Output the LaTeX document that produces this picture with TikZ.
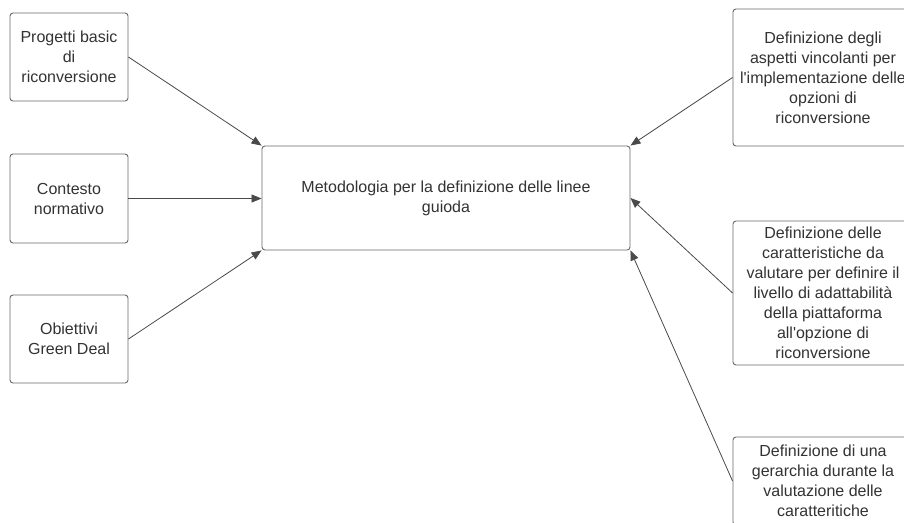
\documentclass[tikz,border=0pt]{standalone}
\usepackage{fontspec}
\setmainfont{Liberation Sans}
\usetikzlibrary{arrows.meta}
\definecolor{boxline}{HTML}{6A6A6A}
\definecolor{txt}{HTML}{333333}
\definecolor{arrowc}{HTML}{4A4A4A}
\tikzset{
	box/.style={draw=boxline, line width=0.9pt, rounded corners=3pt, align=center, text=txt, font=\fontsize{16}{20}\selectfont, inner sep=0pt},
	link/.style={arrowc, line width=0.8pt, -{Triangle[length=10pt,width=8pt]}}
}
\begin{document}
\begin{tikzpicture}[x=1pt, y=-1pt]
	\useasboundingbox (0,0) rectangle (904,522);
	\clip (0,0) rectangle (904,522);
	\fill[white] (0,0) rectangle (904,522);
	
	\node[box, minimum width=118pt, minimum height=88pt] (progetti) at (69,57) {Progetti basic\\di\\riconversione};
	\node[box, minimum width=118pt, minimum height=89pt] (contesto) at (69,198.5) {Contesto\\normativo};
	\node[box, minimum width=118pt, minimum height=88pt] (obiettivi) at (69,339) {Obiettivi\\Green Deal};
	
	\node[box, minimum width=368pt, minimum height=104pt] (metodo) at (446,198) {Metodologia per la definizione delle linee\\guioda};
	
	\node[box, minimum width=180pt, minimum height=137pt] (vincoli) at (823,77.5) {Definizione degli\\aspetti vincolanti per\\l\textquotesingle implementazione delle\\opzioni di\\riconversione};
	\node[box, minimum width=180pt, minimum height=144pt] (caratt) at (823,293) {Definizione delle\\caratteristiche da\\valutare per definire il\\livello di adattabilità\\della piattaforma\\all\textquotesingle opzione di\\riconversione};
	\node[box, minimum width=180pt, minimum height=88pt] (gerarchia) at (823,481) {Definizione di una\\gerarchia durante la\\valutazione delle\\caratteritiche};
	
	\draw[link] (progetti.east) -- (metodo.north west);
	\draw[link] (contesto.east) -- (contesto.east -| metodo.west);
	\draw[link] (obiettivi.east) -- (metodo.south west);
	\draw[link] (vincoli.west) -- (metodo.north east);
	\draw[link] (caratt.west) -- (metodo.east);
	\draw[link] (gerarchia.west) -- (metodo.south east);
\end{tikzpicture}
\end{document}
